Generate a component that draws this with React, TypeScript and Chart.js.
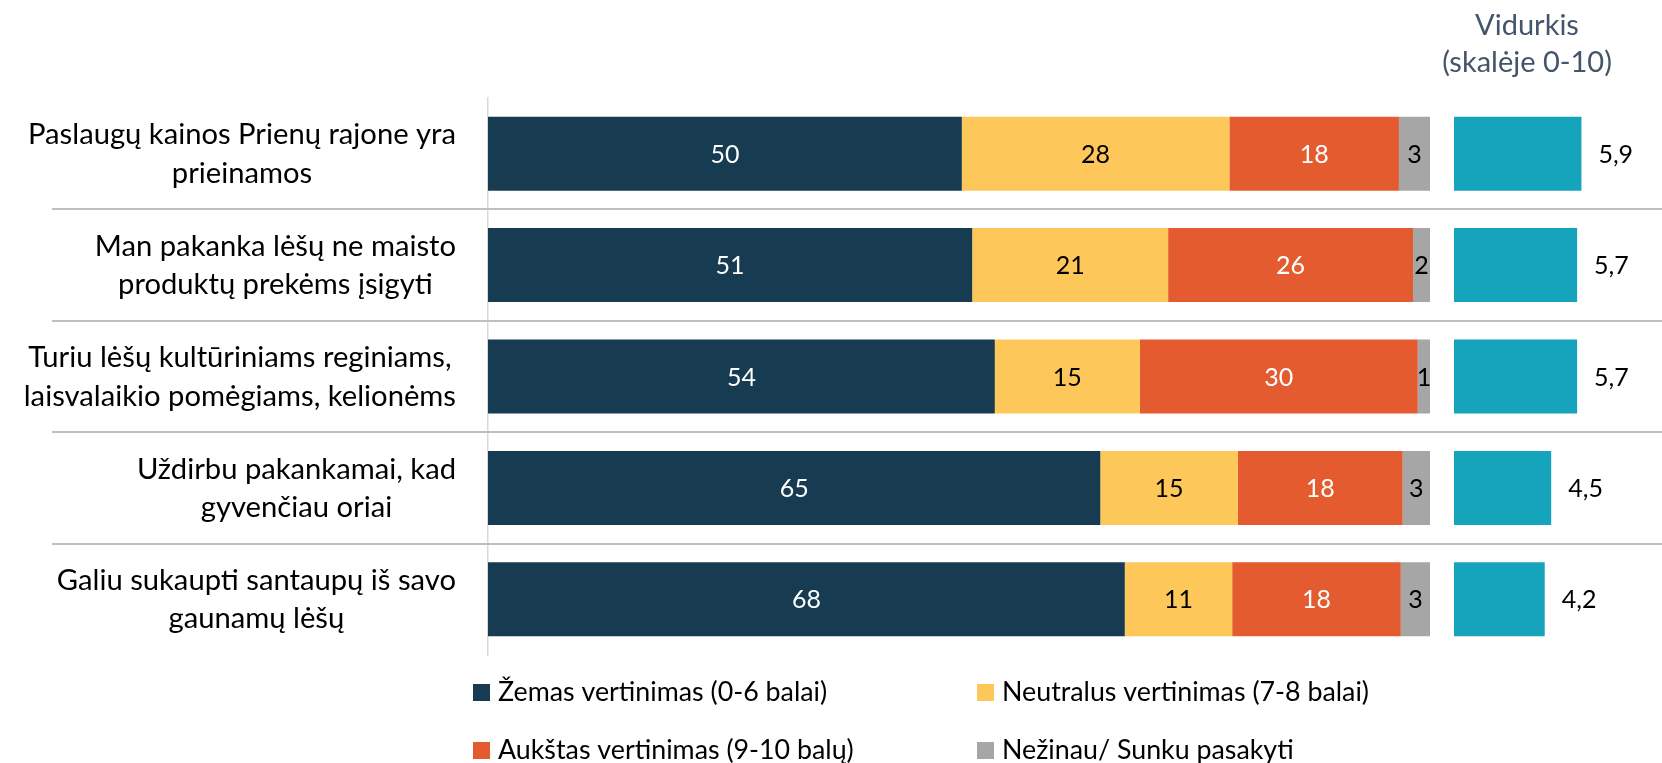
import React, { useEffect, useRef } from "react";
import { Chart, registerables } from "chart.js";

Chart.register(...registerables);

// ---------- data ----------
const CATEGORIES: string[][] = [
  ["Paslaugų kainos Prienų rajone yra", "prieinamos"],
  ["Man pakanka lėšų ne maisto", "produktų prekėms įsigyti"],
  ["Turiu lėšų kultūriniams reginiams,", "laisvalaikio pomėgiams, kelionėms"],
  ["Uždirbu pakankamai, kad", "gyvenčiau oriai"],
  ["Galiu sukaupti santaupų iš savo", "gaunamų lėšų"],
];
const SERIES_LABELS = [
  "Žemas vertinimas (0-6 balai)",
  "Neutralus vertinimas (7-8 balai)",
  "Aukštas vertinimas (9-10 balų)",
  "Nežinau/ Sunku pasakyti",
];
const LOW = [50.3, 51.4, 53.8, 65.0, 67.6];
const NEUTRAL = [28.4, 20.8, 15.4, 14.6, 11.4];
const HIGH = [18.0, 26.0, 29.5, 17.5, 17.9];
const DONT_KNOW = [3.3, 1.8, 1.3, 2.9, 3.1];
const AVERAGES = [5.9, 5.7, 5.7, 4.5, 4.2];
const AVG_TITLE = ["Vidurkis", "(skalėje 0-10)"];

// ---------- style / layout ----------
const W = 1662;
const H = 763;
const FONT = "Lato";
const COLORS = ["#173B50", "#FEC759", "#E55B30", "#A6A6A6"];
const LABEL_COLORS = ["#FFFFFF", "#000000", "#FFFFFF", "#000000"];
const AVG_COLOR = "#15A4BC";
const PLOT_LEFT = 488;
const MAIN_RIGHT = 1430;
const AVG_LEFT = 1454;
const AVG_PX_PER_UNIT = 21.6;

const fmtAvg = (v: number) => v.toFixed(1).replace(".", ",");

const overlayPlugin = {
  id: "overlay",
  beforeDatasetsDraw(chart: any) {
    const { ctx } = chart;
    const y = chart.scales.y;
    ctx.save();
    ctx.strokeStyle = "#BFBFBF";
    ctx.lineWidth = 2;
    for (let i = 0; i < CATEGORIES.length - 1; i++) {
      const py = Math.round((y.getPixelForValue(i) + y.getPixelForValue(i + 1)) / 2);
      ctx.beginPath();
      ctx.moveTo(52, py);
      ctx.lineTo(W, py);
      ctx.stroke();
    }
    ctx.restore();
  },
  afterDatasetsDraw(chart: any) {
    const { ctx } = chart;
    const y = chart.scales.y;
    ctx.save();
    // category labels
    const catSize = 29.2;
    ctx.font = `${catSize}px ${FONT}`;
    ctx.fillStyle = "#000000";
    ctx.textAlign = "center";
    ctx.textBaseline = "alphabetic";
    const lineH = 38.5;
    const cap = 0.68 * catSize;
    CATEGORIES.forEach((lines, i) => {
      const cy = y.getPixelForValue(i);
      const maxW = Math.max(...lines.map((l) => ctx.measureText(l).width));
      const cx = 456 - maxW / 2;
      const first = cy - ((lines.length - 1) * lineH + cap) / 2 + cap;
      lines.forEach((l, k) => ctx.fillText(l, cx, first + k * lineH));
    });

    // data labels
    const dSize = 25;
    ctx.font = `${dSize}px ${FONT}`;
    for (let d = 0; d < 4; d++) {
      const meta = chart.getDatasetMeta(d);
      const vals = chart.data.datasets[d].data as number[];
      ctx.fillStyle = LABEL_COLORS[d];
      ctx.textAlign = "center";
      meta.data.forEach((el: any, i: number) => {
        const cx = (el.x + el.base) / 2;
        ctx.fillText(String(Math.round(vals[i])), cx, el.y + 0.72 * dSize / 2);
      });
    }
    // average labels
    const am = chart.getDatasetMeta(4);
    ctx.fillStyle = "#000000";
    ctx.textAlign = "left";
    am.data.forEach((el: any, i: number) => {
      ctx.fillText(fmtAvg(AVERAGES[i]), el.x + 17, el.y + 0.72 * dSize / 2);
    });

    // average title
    ctx.font = `29px ${FONT}`;
    ctx.fillStyle = "#44546A";
    ctx.textAlign = "center";
    ctx.fillText(AVG_TITLE[0], 1527, 35);
    ctx.fillText(AVG_TITLE[1], 1527, 72);

    // legend
    const legendPos = [
      [473, 701],
      [977, 701],
      [473, 759],
      [977, 759],
    ];
    ctx.font = `26.8px ${FONT}`;
    ctx.textAlign = "left";
    for (let d = 0; d < 4; d++) {
      const [lx, ly] = legendPos[d];
      ctx.fillStyle = COLORS[d];
      ctx.fillRect(lx, ly - 17, 17, 17);
      ctx.fillStyle = "#000000";
      ctx.fillText(chart.data.datasets[d].label, lx + 25, ly);
    }
    ctx.restore();
  },
};

export default function App() {
  const ref = useRef<HTMLCanvasElement | null>(null);
  useEffect(() => {
    if (!ref.current) return;
    const series = [LOW, NEUTRAL, HIGH, DONT_KNOW];
    const chartW = W - PLOT_LEFT;
    const chart = new Chart(ref.current, {
      type: "bar",
      data: {
        labels: CATEGORIES.map((c) => c.join(" ")),
        datasets: [
          ...series.map((s, i) => ({
            label: SERIES_LABELS[i],
            data: s,
            backgroundColor: COLORS[i],
            borderWidth: 0,
            xAxisID: "x",
            stack: "a",
          })),
          {
            label: "Vidurkis",
            data: AVERAGES,
            backgroundColor: AVG_COLOR,
            borderWidth: 0,
            xAxisID: "x2",
            stack: "a",
          },
        ],
      },
      options: {
        indexAxis: "y",
        responsive: false,
        animation: false,
        events: [],
        layout: { padding: { top: 98, bottom: 108, left: 0, right: 0 } },
        datasets: { bar: { barPercentage: 0.664, categoryPercentage: 1 } },
        plugins: { legend: { display: false }, tooltip: { enabled: false } },
        scales: {
          x: {
            display: false,
            stacked: true,
            min: 0,
            max: (100 * chartW) / (MAIN_RIGHT - PLOT_LEFT),
          },
          x2: {
            display: false,
            stacked: false,
            min: -(AVG_LEFT - PLOT_LEFT) / AVG_PX_PER_UNIT,
            max: (W - AVG_LEFT) / AVG_PX_PER_UNIT,
          },
          y: {
            stacked: true,
            ticks: { display: false },
            grid: { display: false },
            border: { display: true, color: "#D9D9D9", width: 1.5 },
            afterFit: (s: any) => {
              s.width = PLOT_LEFT;
            },
          },
        },
      } as any,
      plugins: [overlayPlugin],
    });
    return () => chart.destroy();
  }, []);
  return (
    <div style={{ position: "absolute", left: 0, top: 0, width: W, height: H, background: "#fff" }}>
      <canvas ref={ref} width={W} height={H} style={{ display: "block" }} />
    </div>
  );
}
